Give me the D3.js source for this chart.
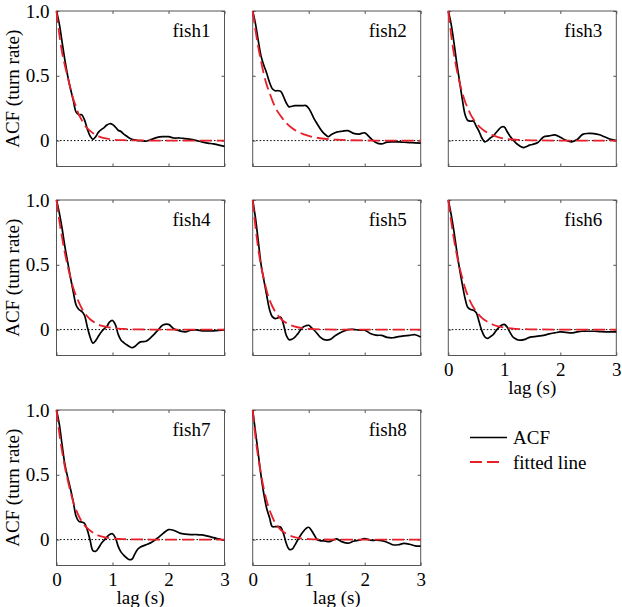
<!DOCTYPE html>
<html><head><meta charset="utf-8">
<script src="https://cdn.jsdelivr.net/npm/d3@7"></script>
<style>body{margin:0;background:#fff} svg text{font-family:"Liberation Serif","Times New Roman",serif}</style></head>
<body><svg id="c" width="622" height="607"></svg>
<script>
// ---------- data ----------
const fishNames = ["fish1","fish2","fish3","fish4","fish5","fish6","fish7","fish8"];
const lags = [0,0.05,0.1,0.15,0.2,0.25,0.3,0.35,0.4,0.45,0.5,0.55,0.6,0.65,0.7,0.75,0.8,0.85,0.9,0.95,1.0,1.05,1.1,1.15,1.2,1.25,1.3,1.35,1.4,1.45,1.5,
  1.6,1.7,1.8,1.9,2.0,2.1,2.2,2.3,2.4,2.5,2.6,2.7,2.8,2.9,3.0];
const acf1 = [1.0,0.90,0.76,0.62,0.50,0.40,0.31,0.22,0.20,0.20,0.16,0.09,0.035,0.01,0.03,0.065,0.085,0.10,0.12,0.13,0.125,0.105,0.08,0.07,0.05,0.035,0.02,0.01,0.005,0.0,0.0,
  -0.005,0.01,0.025,0.03,0.03,0.02,0.02,0.015,0.01,0.0,-0.01,-0.02,-0.025,-0.035,-0.045];
const acf2 = [1.0,0.90,0.77,0.65,0.58,0.52,0.45,0.40,0.385,0.385,0.38,0.34,0.29,0.26,0.265,0.27,0.27,0.27,0.27,0.27,0.25,0.21,0.165,0.13,0.095,0.065,0.045,0.03,0.045,0.056,0.065,
  0.072,0.077,0.056,0.05,0.06,0.02,-0.015,-0.026,-0.012,-0.01,-0.01,-0.013,-0.015,-0.018,-0.02];
const acf3 = [1.0,0.90,0.76,0.60,0.46,0.32,0.20,0.155,0.15,0.15,0.11,0.07,0.02,-0.01,0.0,0.02,0.035,0.06,0.085,0.105,0.105,0.07,0.035,0.008,-0.015,-0.033,-0.048,-0.054,-0.045,-0.035,-0.03,
  -0.015,0.028,0.036,0.044,0.026,0.002,-0.01,0.008,0.048,0.055,0.054,0.045,0.027,0.01,0.0];
const acf4 = [1.0,0.90,0.78,0.64,0.52,0.40,0.29,0.19,0.155,0.14,0.11,0.02,-0.057,-0.105,-0.085,-0.05,-0.018,0.005,0.025,0.06,0.07,0.04,-0.035,-0.08,-0.1,-0.116,-0.13,-0.14,-0.13,-0.11,-0.095,
  -0.09,-0.055,-0.01,0.035,0.04,0.005,-0.01,-0.018,-0.005,-0.003,-0.01,-0.01,-0.01,-0.006,0.0];
const acf5 = [1.0,0.86,0.68,0.50,0.38,0.265,0.155,0.10,0.085,0.09,0.095,0.04,-0.045,-0.078,-0.075,-0.06,-0.035,-0.005,0.02,0.03,0.033,0.015,-0.005,-0.03,-0.057,-0.072,-0.08,-0.08,-0.072,-0.055,-0.04,
  -0.016,0.0,0.002,-0.005,-0.004,-0.03,-0.043,-0.045,-0.06,-0.063,-0.055,-0.049,-0.044,-0.04,-0.057];
const acf6 = [1.0,0.89,0.76,0.61,0.47,0.35,0.24,0.17,0.155,0.15,0.13,0.06,-0.01,-0.055,-0.068,-0.055,-0.04,-0.01,0.015,0.034,0.04,0.02,-0.02,-0.055,-0.07,-0.08,-0.082,-0.078,-0.07,-0.06,-0.056,
  -0.05,-0.045,-0.033,-0.025,-0.018,-0.022,-0.026,-0.018,-0.013,-0.013,-0.013,-0.015,-0.017,-0.018,-0.018];
const acf7 = [1.0,0.89,0.73,0.58,0.48,0.39,0.29,0.18,0.14,0.135,0.125,0.075,-0.005,-0.085,-0.09,-0.065,-0.03,-0.005,0.02,0.04,0.045,0.015,-0.05,-0.095,-0.12,-0.14,-0.155,-0.15,-0.11,-0.075,-0.058,
  -0.04,-0.02,0.01,0.046,0.077,0.07,0.05,0.042,0.039,0.039,0.036,0.027,0.015,0.005,-0.005];
const acf8 = [1.0,0.83,0.66,0.49,0.35,0.24,0.17,0.10,0.10,0.10,0.095,0.046,-0.03,-0.075,-0.075,-0.045,-0.005,0.03,0.06,0.085,0.095,0.07,0.035,0.0,-0.008,-0.01,-0.012,-0.016,-0.012,0.0,0.005,
  -0.018,-0.028,-0.013,-0.005,0.008,-0.005,-0.005,-0.008,-0.02,-0.04,-0.04,-0.03,-0.036,-0.048,-0.05];

const fitLags = [0,0.05,0.1,0.15,0.2,0.25,0.3,0.35,0.4,0.45,0.5,0.6,0.7,0.8,0.9,1.0,1.2,1.5,2.0,2.5,3.0];
const fit1 = [1,0.82,0.68,0.58,0.49,0.40,0.32,0.26,0.20,0.16,0.12,0.075,0.045,0.025,0.015,0.008,0.003,0.001,0,0,0];
const fit2 = [1,0.85,0.72,0.61,0.51,0.43,0.37,0.31,0.26,0.22,0.19,0.135,0.097,0.07,0.05,0.036,0.018,0.007,0.001,0,0];
const fit3 = [1,0.82,0.67,0.55,0.45,0.37,0.30,0.25,0.20,0.165,0.135,0.09,0.06,0.04,0.025,0.015,0.007,0.002,0,0,0];
const fit4 = [1,0.84,0.71,0.59,0.49,0.40,0.32,0.26,0.21,0.165,0.13,0.08,0.05,0.03,0.02,0.012,0.005,0.001,0,0,0];
const fit5 = [1,0.79,0.62,0.49,0.39,0.30,0.23,0.18,0.14,0.11,0.085,0.05,0.03,0.018,0.01,0.006,0.002,0,0,0,0];
const fit6 = [1,0.84,0.70,0.58,0.48,0.40,0.32,0.26,0.21,0.17,0.14,0.09,0.06,0.037,0.024,0.015,0.006,0.002,0,0,0];
const fit7 = [1,0.82,0.68,0.56,0.46,0.37,0.29,0.23,0.18,0.14,0.11,0.07,0.04,0.025,0.015,0.009,0.003,0.001,0,0,0];
const fit8 = [1,0.79,0.63,0.50,0.39,0.30,0.23,0.175,0.13,0.10,0.075,0.045,0.025,0.013,0.007,0.004,0.001,0,0,0,0];

const xTicks = [0,1,2,3];
const xTickLabels = ["0","1","2","3"];
const yTicks = [0,0.5,1.0];
const yTickLabels = ["0","0.5","1.0"];
const xLabel = "lag (s)";
const yLabel = "ACF (turn rate)";
const legendLabels = ["ACF","fitted line"];

// ---------- layout ----------
const acfSeries = [acf1,acf2,acf3,acf4,acf5,acf6,acf7,acf8];
const fitSeries = [fit1,fit2,fit3,fit4,fit5,fit6,fit7,fit8];
const colLeft = [56.5, 252.7, 448.3];
const rowTop = [11, 200, 410];
const pw = 168, ph = 155.5;
const FONT = "'Liberation Serif','Times New Roman',serif";
const FS = 19;
const frameColor = "#555";
const red = "#e8202a";
const DASH = "12,5";

const svg = d3.select("#c");
const x = d3.scaleLinear().domain([0,3]).range([0,pw]);
const y = d3.scaleLinear().domain([-0.2,1]).range([ph,0]);

fishNames.forEach((name,i)=>{
  const col = i%3, row = Math.floor(i/3);
  const g = svg.append("g").attr("transform",`translate(${colLeft[col]},${rowTop[row]})`);
  const showY = col===0;
  const showX = (i===5||i===6||i===7);

  g.append("line").attr("x1",x(0)).attr("x2",x(3)).attr("y1",y(0)).attr("y2",y(0))
    .attr("stroke","#000").attr("stroke-width",1).attr("stroke-dasharray","1.5,2");

  g.append("rect").attr("x",0).attr("y",0).attr("width",pw).attr("height",ph)
    .attr("fill","none").attr("stroke",frameColor).attr("stroke-width",1);

  const gb = g.append("g").attr("transform",`translate(0,${ph})`)
    .call(d3.axisBottom(x).tickValues(xTicks).tickFormat((d,k)=>xTickLabels[k]).tickSizeInner(-3).tickSizeOuter(0).tickPadding(7));
  const gt = g.append("g").call(d3.axisTop(x).tickValues(xTicks).tickSizeInner(-3).tickSizeOuter(0));
  const gl = g.append("g").call(d3.axisLeft(y).tickValues(yTicks).tickFormat((d,k)=>yTickLabels[k]).tickSizeInner(-3).tickSizeOuter(0).tickPadding(7));
  const gr = g.append("g").attr("transform",`translate(${pw},0)`).call(d3.axisRight(y).tickValues(yTicks).tickSizeInner(-3).tickSizeOuter(0));
  [gb,gt,gl,gr].forEach(a=>{
    a.attr("font-family",FONT);
    a.select(".domain").remove();
    a.selectAll(".tick line").attr("stroke",frameColor);
    a.selectAll("text").attr("font-family",FONT).attr("font-size",FS).attr("fill","#000");
  });
  gt.selectAll("text").remove(); gr.selectAll("text").remove();
  if(!showX) gb.selectAll("text").remove();
  else gb.selectAll("text").attr("dy","0.71em");
  if(!showY) gl.selectAll("text").remove();

  const line = d3.line().x((d,k)=>x(lags[k])).y(d=>y(d)).curve(d3.curveCatmullRom.alpha(0.5));
  g.append("path").datum(acfSeries[i]).attr("d",line)
    .attr("fill","none").attr("stroke","#000").attr("stroke-width",1.7).attr("stroke-linejoin","round");

  const fline = d3.line().x((d,k)=>x(fitLags[k])).y(d=>y(d)).curve(d3.curveMonotoneX);
  g.append("path").datum(fitSeries[i]).attr("d",fline)
    .attr("fill","none").attr("stroke",red).attr("stroke-width",1.8).attr("stroke-dasharray",DASH);

  g.append("text").attr("x",pw-14).attr("y",25.5).attr("text-anchor","end")
    .attr("font-family",FONT).attr("font-size",FS).text(name);

  if(showY){
    g.append("text").attr("transform",`translate(${19-colLeft[col]},${ph/2})rotate(-90)`)
      .attr("text-anchor","middle").attr("font-family",FONT).attr("font-size",FS).text(yLabel);
  }
  if(showX){
    g.append("text").attr("x",pw/2).attr("y",ph+38).attr("text-anchor","middle")
      .attr("font-family",FONT).attr("font-size",FS).text(xLabel);
  }
});

const lg = svg.append("g");
lg.append("line").attr("x1",470).attr("x2",507).attr("y1",437.5).attr("y2",437.5)
  .attr("stroke","#000").attr("stroke-width",1.7);
lg.append("line").attr("x1",470).attr("x2",503).attr("y1",462).attr("y2",462)
  .attr("stroke",red).attr("stroke-width",1.8).attr("stroke-dasharray",DASH);
lg.append("text").attr("x",513).attr("y",437.5).attr("dy","0.35em")
  .attr("font-family",FONT).attr("font-size",FS).text(legendLabels[0]);
lg.append("text").attr("x",513).attr("y",462).attr("dy","0.35em")
  .attr("font-family",FONT).attr("font-size",FS).text(legendLabels[1]);
</script>
</body></html>
